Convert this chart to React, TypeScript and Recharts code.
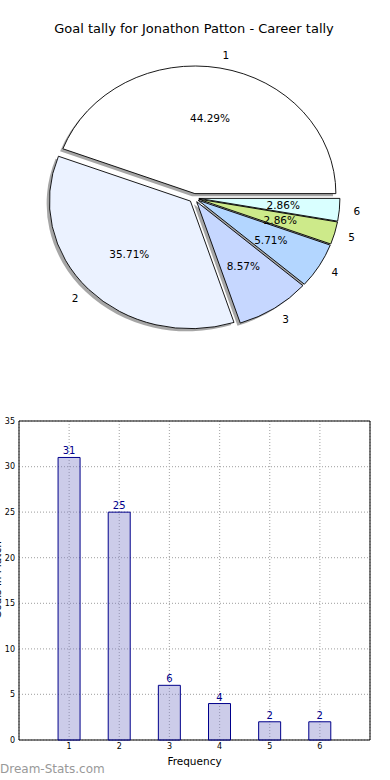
import { PieChart, Pie, Cell, BarChart, Bar, XAxis, YAxis, CartesianGrid, LabelList, ReferenceArea } from 'recharts'

const TITLE = 'Goal tally for Jonathon Patton - Career tally'
const GOALS = ['1', '2', '3', '4', '5', '6']
const TALLY = [31, 25, 6, 4, 2, 2]
const SLICE_COLORS = ['#ffffff', '#ebf2ff', '#c6d7ff', '#b3d6ff', '#cdea8a', '#d9ffff']
const X_TICKS = [1, 2, 3, 4, 5, 6]
const Y_TICKS = [0, 5, 10, 15, 20, 25, 30, 35]

const FONT = '"DejaVu Sans", sans-serif'
const RY = 0.905 // pie is drawn squashed vertically
const EXPLODE = 0.035
const RAD = Math.PI / 180

const pieData = GOALS.map((g, i) => ({ name: g, value: TALLY[i] }))
const barData = GOALS.map((g, i) => ({ goal: Number(g), tally: TALLY[i] }))

function wedgePath(cx: number, cy: number, r: number, start: number, end: number, mid: number, dx = 0, dy = 0) {
  const rx = r
  const ry = r * RY
  const ox = cx + EXPLODE * rx * Math.cos(mid * RAD) + dx
  const oy = cy - EXPLODE * ry * Math.sin(mid * RAD) + dy
  const x1 = ox + rx * Math.cos(start * RAD)
  const y1 = oy - ry * Math.sin(start * RAD)
  const x2 = ox + rx * Math.cos(end * RAD)
  const y2 = oy - ry * Math.sin(end * RAD)
  const large = Math.abs(end - start) > 180 ? 1 : 0
  return `M${ox},${oy}L${x1},${y1}A${rx},${ry} 0 ${large} 0 ${x2},${y2}Z`
}

const wedge = (p: any) => (
  <path
    d={wedgePath(p.cx, p.cy, p.outerRadius, p.startAngle, p.endAngle, p.midAngle)}
    fill={p.fill}
    stroke="#000"
    strokeWidth={0.9}
  />
)

const shadow = (p: any) => (
  <path
    d={wedgePath(p.cx, p.cy, p.outerRadius, p.startAngle, p.endAngle, p.midAngle, -2.8, 2.6)}
    fill="#4d4d4d"
    fillOpacity={0.5}
    stroke="none"
  />
)

const pieLabel = (p: any) => {
  const rx = p.outerRadius
  const ry = rx * RY
  const c = Math.cos(p.midAngle * RAD)
  const s = Math.sin(p.midAngle * RAD)
  const ox = p.cx + EXPLODE * rx * c
  const oy = p.cy - EXPLODE * ry * s
  return (
    <g fontFamily={FONT} fontSize={10.5} fill="#000">
      <text x={ox + 1.1 * rx * c} y={oy - 1.1 * ry * s} textAnchor={c > 0 ? 'start' : 'end'} dominantBaseline="central">
        {GOALS[p.index]}
      </text>
      <text x={ox + 0.6 * rx * c} y={oy - 0.6 * ry * s} textAnchor="middle" dominantBaseline="central">
        {(p.percent * 100).toFixed(2)}%
      </text>
    </g>
  )
}

export default function App() {
  return (
    <div style={{ position: 'absolute', left: 0, top: 0, width: 390, height: 780, background: '#fff', overflow: 'hidden', fontFamily: FONT }}>
      <div style={{ position: 'absolute', left: 0, top: 21, width: 388, textAlign: 'center', fontSize: 13, lineHeight: '16px' }}>
        {TITLE}
      </div>

      <div style={{ position: 'absolute', left: 0, top: 0 }}>
        <PieChart width={390} height={390} margin={{ top: 0, right: 0, bottom: 0, left: 0 }}>
          <Pie data={pieData} dataKey="value" cx={194} cy={198} outerRadius={141} startAngle={0} endAngle={360}
            shape={shadow} isAnimationActive={false} stroke="none" label={false}>
            {pieData.map((d, i) => <Cell key={d.name} fill={SLICE_COLORS[i]} />)}
          </Pie>
          <Pie data={pieData} dataKey="value" cx={194} cy={198} outerRadius={141} startAngle={0} endAngle={360}
            shape={wedge} isAnimationActive={false} stroke="#000" label={pieLabel} labelLine={false}>
            {pieData.map((d, i) => <Cell key={d.name} fill={SLICE_COLORS[i]} />)}
          </Pie>
        </PieChart>
      </div>

      <div style={{ position: 'absolute', left: 0, top: 400 }}>
        <BarChart width={390} height={380} data={barData} margin={{ top: 21, right: 20, left: 0, bottom: 0 }}>
          <CartesianGrid stroke="#b0b0b0" strokeDasharray="1 2" strokeWidth={1.2} />
          <XAxis dataKey="goal" type="number" domain={[0, 7]} ticks={X_TICKS} allowDataOverflow
            tick={{ fontSize: 8, fill: '#000', fontFamily: FONT }} tickLine={false} axisLine={false}
            tickSize={3} tickMargin={0} height={40}
            label={{ value: 'Frequency', position: 'insideBottom', offset: 15, fontSize: 10.5, fill: '#000', fontFamily: FONT }} />
          <YAxis type="number" domain={[0, 35]} ticks={Y_TICKS} width={19}
            tick={{ fontSize: 8, fill: '#000', fontFamily: FONT }} tickLine={false} axisLine={false}
            tickSize={3} tickMargin={1} />
          <Bar dataKey="tally" fill="#8080c8" fillOpacity={0.4} stroke="#00008b" strokeWidth={1} barSize={22} isAnimationActive={false}>
            <LabelList dataKey="tally" position="top" offset={3} fill="#00008b" fontSize={10} fontFamily={FONT} />
          </Bar>
          <ReferenceArea x1={0} x2={7} y1={0} y2={35} fill="none" stroke="#000" strokeWidth={1} ifOverflow="visible" />
        </BarChart>
      </div>

      <div style={{ position: 'absolute', left: -43, top: 574, width: 80, height: 12, lineHeight: '12px', fontSize: 10.5, textAlign: 'center', transform: 'rotate(-90deg)' }}>
        Goals in Match
      </div>

      <div style={{ position: 'absolute', left: 0, top: 762, fontSize: 12, color: '#999', lineHeight: '14px' }}>
        Dream-Stats.com
      </div>
    </div>
  )
}
